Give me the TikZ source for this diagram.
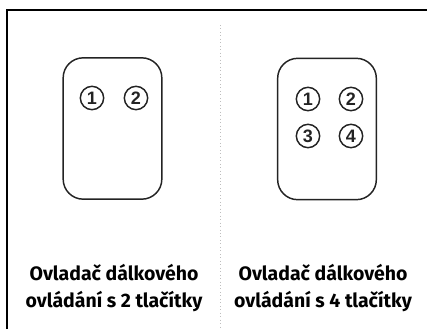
\documentclass[tikz,border=0pt]{standalone}
\usepackage{fontspec}
\setmainfont{Fira Sans}[BoldFont={Fira Sans Bold}]
\newfontfamily\btnfont{Liberation Sans Bold}
\usetikzlibrary{positioning}
\definecolor{remotegray}{RGB}{35, 35, 35}
\definecolor{sepgray}{RGB}{190, 190, 190}

\tikzset{
  remote/.style={draw=remotegray, line width=1.1pt, rounded corners=15pt,
    minimum width=74pt, minimum height=106pt},
  btn/.style={circle, draw=remotegray, line width=1.1pt, minimum size=17.5pt,
    inner sep=0pt, font=\btnfont\fontsize{13.5}{13.5}\selectfont, text=remotegray},
  caption/.style={align=center, font=\fontsize{14.6}{20.5}\selectfont\bfseries}
}

\begin{document}
\begin{tikzpicture}[x=0.75pt, y=-0.75pt]
        \useasboundingbox (0,0) rectangle (429,329);
        
        % ramecek a delici cara
        \draw[line width=0.8pt] (7,329) -- (7,10) -- (427,10);
        \draw[sepgray, dotted, line width=0.6pt] (220,25) -- (220,329);
        
        % ovladac se 2 tlacitky
        \node[remote] (dva) at (112.5,128.5) {};
        \node[btn] (d1) at (92,98) {1};
        \node[btn] (d2) at (136,98) {2};
        
        % ovladac se 4 tlacitky
        \node[remote] (ctyri) at (327,129) {};
        \node[btn] (c1) at (308,99) {1};
        \node[btn] (c2) at (351,99) {2};
        \node[btn] (c3) at (308,136) {3};
        \node[btn] (c4) at (351,136) {4};
        
        % popisky
        \node[caption] (popis2) at (114,288) {Ovladač dálkového\\ovládání s 2 tlačítky};
        \node[caption] (popis4) at (323,288) {Ovladač dálkového\\ovládání s 4 tlačítky};
    \end{tikzpicture}
\end{document}
